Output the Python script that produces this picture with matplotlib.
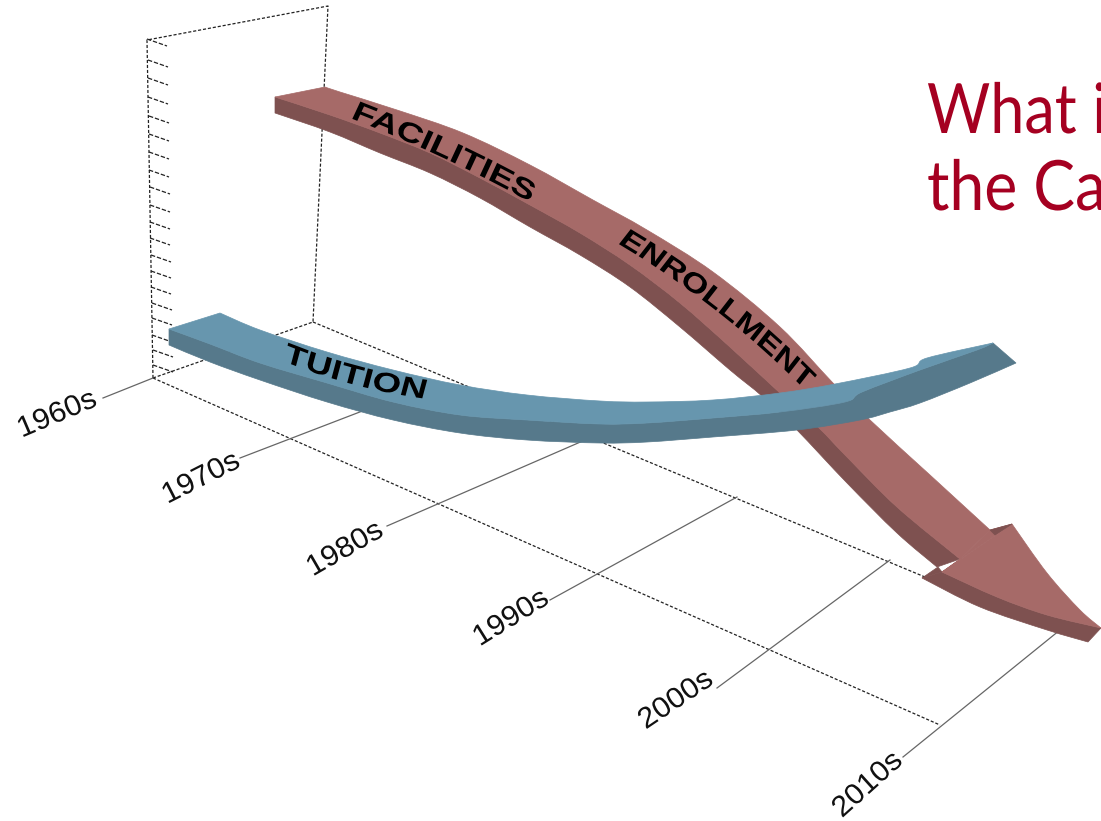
import numpy as np
import matplotlib
matplotlib.use("Agg")
import matplotlib.pyplot as plt
from matplotlib.patches import PathPatch
from matplotlib.path import Path
from matplotlib.patheffects import AbstractPathEffect
from matplotlib.transforms import Affine2D

# everything, in pixels (y down)
decades = ["1960s", "1970s", "1980s", "1990s", "2000s", "2010s"]
decade_label_x = [55, 199, 343, 509, 674, 866]
decade_label_y = [415, 479, 550, 619, 701, 786]
decade_label_rot = [23, 27, 30, 32, 34, 42]
gridline_start = [(103, 398), (240, 458), (387, 526), (550, 600), (717, 688), (903, 757)]
gridline_end = [(153, 378), (365, 410), (585, 440), (737, 497), (890, 560), (1060, 630)]

wall = [(153, 378), (147, 40), (328, 6), (313, 322), (153, 378)]
floor_front = [(153, 378), (940, 725)]
floor_back = [(313, 322), (925, 577)]
wall_tick_y = [39, 60, 78, 97, 116, 134, 152, 170, 187, 205, 222, 238, 255, 271, 287, 303, 318, 335, 350, 365]
wall_tick_x = [147, 148, 148, 148, 149, 149, 149, 149, 150, 150, 150, 150, 151, 151, 151, 152, 152, 152, 153, 153]

# red ribbon: back edge, fold between top and side, bottom edge
red_back = [(325, 87), (340, 92), (397, 110), (463, 133), (530, 165), (593, 200), (647, 230), (713, 272),
            (780, 327), (833, 383), (870, 420), (930, 475), (990, 530)]
red_fold = [(275, 97), (330, 115), (380, 133), (430, 153), (480, 178), (530, 205), (580, 233), (630, 265),
            (680, 303), (730, 347), (780, 393), (818, 427), (847, 457), (897, 507), (960, 559)]
red_bottom = [(275, 113), (330, 132), (380, 153), (430, 173), (480, 198), (530, 227), (580, 255), (630, 287),
              (680, 327), (730, 370), (763, 397), (797, 430), (847, 483), (897, 533), (937, 567)]
# arrow head
red_head_lower = [(942, 572), (997, 597), (1047, 615), (1101, 628)]
red_head_right = [(1012, 524), (1047, 573), (1080, 610), (1101, 628)]
red_head_bottom = [(922, 578), (980, 607), (1047, 630), (1088, 642)]
red_head_corner = [(942, 572), (938, 567), (922, 578)]
red_head_neck = [(990, 530), (1012, 524), (942, 572), (960, 559)]
red_notch = [(990, 530), (1012, 524), (995, 535)]

# blue ribbon
blue_back = [(220, 313), (260, 330), (327, 352), (393, 370), (460, 385), (527, 395), (600, 401), (647, 402),
             (713, 400), (780, 393), (835, 384), (910, 368), (927, 358), (993, 343)]
blue_fold = [(169, 329), (210, 344), (260, 363), (327, 383), (393, 402), (460, 415), (527, 420), (600, 424),
             (647, 423), (713, 418), (780, 412), (845, 402), (862, 392), (920, 370), (977, 350), (993, 343)]
blue_bottom = [(169, 345), (210, 362), (260, 380), (327, 402), (393, 420), (460, 433), (527, 440), (600, 443),
               (647, 442), (713, 437), (797, 430), (860, 420), (890, 412), (920, 403), (970, 383), (1016, 363)]

ribbon_labels = ["FACILITIES", "ENROLLMENT", "TUITION"]
ribbon_label_xy = [(350, 118), (617, 243), (283, 361)]
ribbon_label_rot = [25, 38, 15]
ribbon_label_size = [20, 20, 20]
ribbon_label_stretch = [1.33, 1.24, 1.32]
ribbon_label_bend = [0.3, 0.7, -0.4]

title_lines = ["What is", "the Ca"]
title_y = [133, 210]
title_stretch = [0.88, 0.9]

RED_TOP, RED_SIDE = "#A66A68", "#7E5150"
BLUE_TOP, BLUE_SIDE = "#6796AE", "#56798B"


class Warp(AbstractPathEffect):
    # stretches the glyphs along the baseline and bends them like the ribbon does
    def __init__(self, sx=1.0, bend=0.0):
        super().__init__()
        self.sx, self.bend = sx, bend

    def draw_path(self, renderer, gc, tpath, affine, rgbFace=None):
        v = tpath.vertices.copy()
        x0, x1 = v[:, 0].min(), v[:, 0].max()
        t = (v[:, 0] - x0) / max(x1 - x0, 1)
        v[:, 1] += self.bend * 4 * t * (1 - t) * 40
        warped = Path(v, tpath.codes)
        tr = Affine2D().scale(self.sx, 1) + affine
        renderer.draw_path(gc, warped, tr, rgbFace)


def bezier_through(pts):
    # control points of a smooth curve through the read points
    p = np.array(pts, dtype=float)
    verts = []
    for i in range(len(p) - 1):
        before = p[max(i - 1, 0)]
        after = p[min(i + 2, len(p) - 1)]
        verts += [p[i] + (p[i + 1] - before) / 6, p[i + 1] - (after - p[i]) / 6, p[i + 1]]
    return verts


def face(ax, edge_a, edge_b, color, z):
    verts = [np.array(edge_a[0], dtype=float)] + bezier_through(edge_a)
    codes = [Path.MOVETO] + [Path.CURVE4] * (len(verts) - 1)
    verts.append(np.array(edge_b[-1], dtype=float))
    codes.append(Path.LINETO)
    back = bezier_through(edge_b[::-1])
    verts += back
    codes += [Path.CURVE4] * len(back)
    verts.append(verts[0])
    codes.append(Path.CLOSEPOLY)
    ax.add_patch(PathPatch(Path(verts, codes), facecolor=color, edgecolor=color, lw=0.5, zorder=z))


def poly(ax, pts, color, z):
    xy = np.array(pts)
    ax.fill(xy[:, 0], xy[:, 1], color=color, lw=0.5, zorder=z)


def line(ax, pts, **kw):
    xy = np.array(pts)
    ax.plot(xy[:, 0], xy[:, 1], **kw)


fig = plt.figure(figsize=(11.01, 8.21), dpi=100)
ax = fig.add_axes([0, 0, 1, 1])
ax.set_xlim(0, 1101)
ax.set_ylim(821, 0)
ax.axis("off")

dash = dict(color="#222222", lw=0.9, ls=(0, (2.5, 1.5)), zorder=1)
line(ax, wall, **dash)
line(ax, floor_front, **dash)
line(ax, floor_back, **dash)
for tx, ty in zip(wall_tick_x, wall_tick_y):
    ax.plot([tx, tx + 20], [ty, ty + 7], color="#222222", lw=0.9, ls=(0, (3.5, 1.5)), zorder=1)

for start, end, name, lx, ly, rot in zip(gridline_start, gridline_end, decades,
                                         decade_label_x, decade_label_y, decade_label_rot):
    line(ax, [start, end], color="#666666", lw=0.9, zorder=1)
    ax.text(lx, ly, name, fontsize=21, rotation=rot, rotation_mode="anchor", ha="center", va="center",
            family="Liberation Sans", color="#111111", path_effects=[Warp(sx=1.05)])

face(ax, red_fold, red_bottom, RED_SIDE, 2)
face(ax, red_back, red_fold, RED_TOP, 3)
face(ax, red_head_bottom, red_head_lower, RED_SIDE, 3)
poly(ax, red_head_corner, RED_SIDE, 3)
poly(ax, red_head_neck, RED_TOP, 3.5)
face(ax, red_head_lower, red_head_right, RED_TOP, 4)
poly(ax, red_notch, RED_SIDE, 4.5)

face(ax, blue_fold, blue_bottom, BLUE_SIDE, 5)
face(ax, blue_back, blue_fold, BLUE_TOP, 6)

for word, (wx, wy), rot, size, sx, bend in zip(ribbon_labels, ribbon_label_xy, ribbon_label_rot,
                                               ribbon_label_size, ribbon_label_stretch, ribbon_label_bend):
    ax.text(wx, wy, word, fontsize=size, fontweight="bold", family="Liberation Sans", color="black",
            rotation=-rot, rotation_mode="anchor", ha="left", va="baseline", zorder=7,
            path_effects=[Warp(sx=sx, bend=bend)])

for text, ty, sx in zip(title_lines, title_y, title_stretch):
    ax.text(927, ty, text, fontsize=50, family="Lato", color="#A50021", ha="left", va="baseline",
            path_effects=[Warp(sx=sx)])

fig.savefig("out.png", dpi=100)
